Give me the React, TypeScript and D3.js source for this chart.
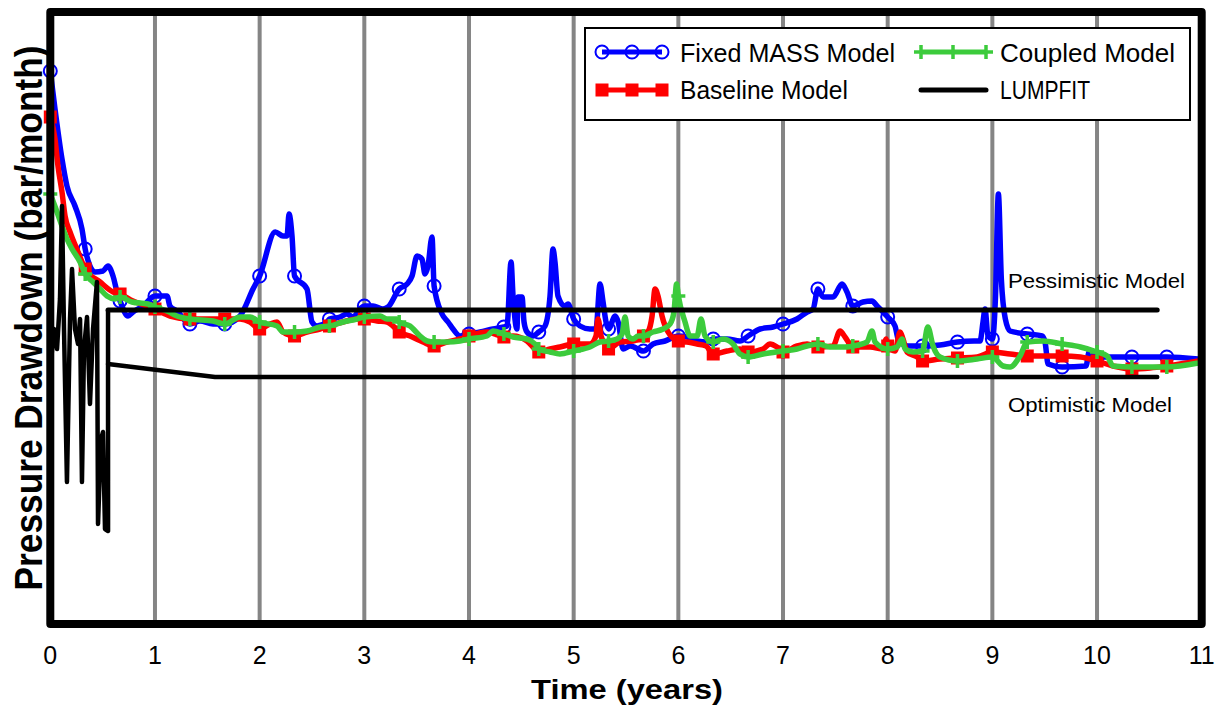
import React from "react";
import * as d3 from "d3";

// time in months, value in bar/month
const xTickLabels = ["0", "1", "2", "3", "4", "5", "6", "7", "8", "9", "10", "11"];

const fixedMass: [number, number][] = [
  [0, 5.53], [0.54, 5.15], [1.34, 4.65], [1.91, 4.38], [2.83, 4.18], [3.63, 3.95], [4, 3.75],
  [4.55, 3.58], [5.12, 3.52], [6.04, 3.53], [6.62, 3.58], [7.19, 3.48], [7.65, 3.32], [8, 3.23],
  [8.91, 3.08], [9.48, 3.12], [10.63, 3.18], [12, 3.28], [13.38, 3.28], [13.72, 3.18], [14.52, 3.13],
  [16, 3.0], [17.16, 3.03], [18.65, 3.0], [20, 3.0], [21.75, 3.08], [23.24, 3.35], [24, 3.48],
  [25.79, 3.92], [26.68, 3.88], [27.14, 3.88], [27.37, 4.1], [27.71, 3.88], [28, 3.48], [29.43, 3.35],
  [30.0, 3.02], [30.58, 2.98], [31.73, 3.02], [32, 3.05], [33.21, 3.07], [34.01, 3.1], [34.7, 3.07],
  [35.5, 3.15], [36, 3.18], [37.0, 3.18], [38.14, 3.15], [38.72, 3.17], [40, 3.35], [40.9, 3.4],
  [41.47, 3.48], [42.04, 3.68], [42.61, 3.65], [42.96, 3.5], [43.3, 3.58], [43.76, 3.87], [44, 3.38],
  [44.91, 3.1], [45.6, 3.02], [46.17, 2.95], [46.97, 2.88], [48, 2.9], [49.27, 2.92], [50.76, 2.95],
  [52, 2.97], [52.36, 2.98], [52.82, 3.62], [53.05, 3.28], [53.5, 2.95], [53.62, 3.27], [54.08, 3.27],
  [54.31, 3.02], [54.65, 2.92], [55.34, 2.88], [56, 2.92], [56.72, 2.98], [57.29, 3.28], [57.63, 3.75],
  [57.86, 3.62], [58.2, 3.28], [59.0, 3.18], [59.35, 3.2], [60, 3.05], [60.73, 2.98], [61.87, 2.95],
  [62.56, 2.95], [63.02, 3.4], [63.37, 3.22], [63.71, 3.02], [64, 2.95], [64.76, 3.08], [65.1, 3.02],
  [65.67, 2.75], [66.48, 2.78], [68, 2.73], [69.1, 2.8], [70.48, 2.83], [72, 2.88], [73.0, 2.87],
  [74.15, 2.83], [75.29, 2.82], [76, 2.85], [77.58, 2.85], [79.07, 2.83], [80, 2.88], [81.37, 2.95],
  [82.86, 2.97], [84, 3.0], [85.61, 3.05], [86.76, 3.12], [87.45, 3.15], [88, 3.35], [88.59, 3.27],
  [89.74, 3.27], [90.77, 3.4], [91.34, 3.32], [92, 3.18], [93.17, 3.22], [94.2, 3.23], [94.78, 3.18],
  [96, 3.07], [96.84, 2.98], [97.19, 2.85], [97.65, 2.8], [98.34, 2.78], [100, 2.78], [102.0, 2.79],
  [104, 2.82], [105.9, 2.83], [106.59, 2.83], [106.93, 3.02], [107.16, 3.15], [107.5, 2.88], [108, 2.85],
  [108.35, 3.25], [108.69, 4.3], [109.03, 3.45], [109.49, 3.05], [110.03, 2.93], [112, 2.9], [113.7, 2.88],
  [114.04, 2.82], [114.39, 2.6], [116, 2.57], [118.74, 2.58], [119.09, 2.72], [120, 2.67], [124, 2.67],
  [128, 2.67], [131.6, 2.65],
];

const baseline: [number, number][] = [
  [0, 5.07], [0.54, 4.85], [0.88, 4.58], [1.34, 4.32], [1.69, 4.08], [2.26, 3.92], [3.18, 3.72], [4, 3.55],
  [5.7, 3.42], [7.19, 3.32], [8, 3.3], [9.48, 3.23], [11.09, 3.18], [12, 3.15], [13.72, 3.08], [16, 3.05],
  [17.97, 3.05], [20, 3.05], [21.75, 3.05], [22.9, 3.02], [24, 2.95], [25.19, 3.0], [25.99, 3.02],
  [26.68, 2.92], [28, 2.88], [29.43, 2.92], [30.92, 2.95], [32, 2.98], [33.56, 3.02], [35.16, 3.05],
  [36, 3.05], [37.46, 3.03], [38.6, 3.02], [39.29, 2.98], [40, 2.92], [41.24, 2.88], [42.73, 2.82],
  [44, 2.78], [45.48, 2.82], [46.97, 2.85], [48, 2.88], [50.07, 2.92], [51.0, 2.9], [52, 2.87],
  [53.05, 2.88], [54.65, 2.83], [55.57, 2.75], [56, 2.72], [57.29, 2.75], [58.43, 2.77], [60, 2.8],
  [61.87, 2.8], [62.56, 2.88], [62.79, 3.05], [63.14, 2.88], [63.6, 2.8], [64, 2.75], [65.32, 2.82],
  [66.81, 2.83], [68, 2.88], [68.53, 2.92], [68.99, 3.08], [69.33, 3.35], [69.67, 3.28], [70.13, 3.08],
  [70.82, 2.92], [72, 2.83], [73.0, 2.82], [74.15, 2.8], [75.18, 2.78], [76, 2.7], [77.58, 2.73],
  [79.07, 2.75], [80, 2.72], [81.71, 2.75], [82.51, 2.8], [83.31, 2.77], [84, 2.72], [85.61, 2.78],
  [86.76, 2.8], [88, 2.77], [89.74, 2.78], [90.54, 2.93], [91.11, 2.87], [92, 2.77], [94.0, 2.77],
  [95.49, 2.75], [95.83, 2.85], [96, 2.78], [96.84, 2.73], [97.42, 2.92], [97.76, 2.85], [98.22, 2.72],
  [99.37, 2.67], [100, 2.63], [102.0, 2.65], [104, 2.66], [106.25, 2.67], [108, 2.72], [110.03, 2.7],
  [112, 2.68], [114.27, 2.68], [116, 2.68], [118.1, 2.67], [120, 2.63], [121.84, 2.58], [124, 2.55],
  [126.08, 2.56], [128, 2.58], [131.6, 2.63],
];

const coupled: [number, number][] = [
  [0, 4.3], [0.77, 4.12], [1.34, 3.98], [1.91, 3.85], [2.49, 3.75], [3.41, 3.62], [4, 3.5], [4.9, 3.42],
  [5.7, 3.35], [6.5, 3.28], [7.42, 3.25], [8, 3.27], [9.37, 3.22], [11.2, 3.2], [12, 3.17], [13.38, 3.13],
  [14.52, 3.08], [16, 3.05], [18.65, 3.03], [20, 3.0], [21.75, 3.07], [22.9, 3.07], [24, 3.02],
  [25.99, 2.98], [26.68, 2.92], [28, 2.92], [29.43, 2.93], [30.92, 2.97], [32, 2.98], [33.56, 3.02],
  [35.16, 3.05], [36, 3.07], [37.8, 3.08], [38.6, 3.05], [39.75, 3.05], [40, 3.02], [41.24, 2.98],
  [42.39, 2.88], [43.19, 2.83], [44, 2.82], [45.48, 2.82], [46.97, 2.83], [48, 2.85], [50.07, 2.88],
  [50.76, 2.93], [52, 2.9], [53.05, 2.87], [54.65, 2.85], [55.57, 2.8], [56, 2.75], [57.29, 2.72],
  [58.43, 2.7], [60, 2.73], [61.87, 2.77], [63.02, 2.82], [64, 2.83], [64.98, 2.85], [65.55, 2.9],
  [65.89, 3.07], [66.24, 2.88], [66.81, 2.85], [67.38, 2.88], [68, 2.88], [69.1, 2.92], [70.25, 2.95],
  [71.05, 3.0], [71.5, 3.12], [71.8, 3.4], [72, 3.28], [72.77, 3.02], [73.34, 2.88], [74.15, 2.88],
  [74.6, 3.05], [75.06, 2.88], [76, 2.82], [77.12, 2.85], [78.27, 2.8], [79.07, 2.7], [80, 2.67],
  [81.71, 2.7], [84, 2.73], [85.61, 2.75], [86.76, 2.78], [88, 2.8], [89.39, 2.77], [91.34, 2.77],
  [92, 2.78], [93.63, 2.82], [94.2, 2.93], [94.55, 2.82], [96, 2.75], [97.07, 2.77], [97.65, 2.85],
  [97.99, 2.75], [98.91, 2.72], [100, 2.73], [100.6, 2.97], [101.2, 2.78], [102.0, 2.67], [104, 2.63],
  [106.25, 2.65], [108, 2.67], [109.23, 2.58], [110.03, 2.57], [111.17, 2.68], [112, 2.82], [113.8, 2.83],
  [116, 2.8], [118.1, 2.77], [120, 2.72], [121.15, 2.68], [121.84, 2.58], [124, 2.57], [128, 2.57],
  [131.6, 2.61],
];

const lumpfit: [number, number][] = [
  [0, 2.55], [0.42, 2.95], [0.77, 2.75], [1.11, 3.25], [1.34, 4.18], [1.57, 2.95], [1.91, 1.42],
  [2.26, 3.05], [2.49, 3.55], [2.83, 2.95], [3.18, 2.8], [3.41, 3.05], [3.63, 1.42], [3.86, 2.75],
  [4.21, 3.07], [4.55, 2.2], [4.9, 2.95], [5.35, 3.42], [5.47, 1.0], [5.81, 1.85], [6.04, 1.92],
  [6.27, 0.95], [6.62, 0.93], [6.62, 3.14],
];

const pessimistic: [number, number][] = [[6.62, 3.14], [126.9, 3.14]];
const optimistic: [number, number][] = [[6.62, 2.6], [18.88, 2.47], [126.9, 2.47]];

const BLUE = "#0000ff";
const RED = "#ff0000";
const GREEN = "#3ccb3c";
const FONT = "'Liberation Sans', Arial, Helvetica, sans-serif";

const W = 1220;
const H = 711;
const L = 50.3;
const R = 1201.7;
const T = 12;
const B = 624;

export default function App() {
  const x = d3.scaleLinear().domain([0, 11]).range([L, R]);
  const y = d3.scaleLinear().domain([0, 6.12]).range([B, T]);
  const smooth = d3
    .line<[number, number]>()
    .x((d) => x(d[0] / 12))
    .y((d) => y(d[1]))
    .curve(d3.curveMonotoneX);
  const straight = d3
    .line<[number, number]>()
    .x((d) => x(d[0] / 12))
    .y((d) => y(d[1]));
  const isMarker = (d: [number, number]) => Number.isInteger(d[0]) && d[0] % 4 === 0;

  const plus = (cx: number, cy: number, s: number, key: string | number) => (
    <path
      key={key}
      d={`M${cx - s},${cy}H${cx + s}M${cx},${cy - s}V${cy + s}`}
      stroke={GREEN}
      strokeWidth={3.5}
      fill="none"
    />
  );

  return (
    <svg width={W} height={H} style={{ position: "absolute", left: 0, top: 0, background: "#fff" }}>
      {/* grid */}
      {xTickLabels.slice(1, 11).map((_, i) => (
        <line key={i} x1={x(i + 1)} x2={x(i + 1)} y1={T} y2={B} stroke="#858585" strokeWidth={4} />
      ))}

      {/* Fixed MASS */}
      <path d={smooth(fixedMass) || ""} fill="none" stroke={BLUE} strokeWidth={5.5} strokeLinejoin="round" />
      {fixedMass.filter(isMarker).map((d, i) => (
        <circle key={i} cx={x(d[0] / 12)} cy={y(d[1])} r={6.5} fill="none" stroke={BLUE} strokeWidth={2} />
      ))}

      {/* Baseline */}
      <path d={smooth(baseline) || ""} fill="none" stroke={RED} strokeWidth={5.5} strokeLinejoin="round" />
      {baseline.filter(isMarker).map((d, i) => (
        <rect key={i} x={x(d[0] / 12) - 6.5} y={y(d[1]) - 6.5} width={13} height={13} fill={RED} />
      ))}

      {/* Coupled */}
      <path d={smooth(coupled) || ""} fill="none" stroke={GREEN} strokeWidth={5.5} strokeLinejoin="round" />
      {coupled.filter(isMarker).map((d, i) => plus(x(d[0] / 12), y(d[1]), 7, i))}

      {/* LUMPFIT */}
      <path d={straight(lumpfit) || ""} fill="none" stroke="#000" strokeWidth={4.5} strokeLinejoin="round" />
      <path d={straight(pessimistic) || ""} fill="none" stroke="#000" strokeWidth={5} strokeLinecap="round" />
      <path d={straight(optimistic) || ""} fill="none" stroke="#000" strokeWidth={4.5} strokeLinecap="round" strokeLinejoin="round" />

      {/* frame */}
      <rect x={L} y={T} width={R - L} height={B - T} fill="none" stroke="#000" strokeWidth={8} strokeLinejoin="round" />

      {/* annotations */}
      <text x={1008} y={288} fontFamily={FONT} fontSize={21} textLength={177} lengthAdjust="spacingAndGlyphs">
        Pessimistic Model
      </text>
      <text x={1008} y={412} fontFamily={FONT} fontSize={21} textLength={164} lengthAdjust="spacingAndGlyphs">
        Optimistic Model
      </text>

      {/* x tick labels */}
      {xTickLabels.map((t, i) => (
        <text key={t} x={x(i)} y={664} textAnchor="middle" fontFamily={FONT} fontSize={25}>
          {t}
        </text>
      ))}

      {/* axis titles */}
      <text
        x={627}
        y={699}
        textAnchor="middle"
        fontFamily={FONT}
        fontSize={28}
        fontWeight="bold"
        textLength={192}
        lengthAdjust="spacingAndGlyphs"
      >
        Time (years)
      </text>
      <text
        transform="translate(42,318) rotate(-90) scale(1,1.15)"
        textAnchor="middle"
        fontFamily={FONT}
        fontSize={33}
        fontWeight="bold"
        textLength={545}
        lengthAdjust="spacingAndGlyphs"
      >
        Pressure Drawdown (bar/month)
      </text>

      {/* legend */}
      <rect x={585} y={28} width={605} height={92} fill="#fff" stroke="#000" strokeWidth={2} />
      <line x1={602} x2={662} y1={52} y2={52} stroke={BLUE} strokeWidth={5} />
      {[602, 632, 662].map((cx) => (
        <circle key={cx} cx={cx} cy={52} r={6.5} fill="none" stroke={BLUE} strokeWidth={2} />
      ))}
      <text x={680} y={62} fontFamily={FONT} fontSize={25} textLength={215} lengthAdjust="spacingAndGlyphs">
        Fixed MASS Model
      </text>
      <line x1={602} x2={662} y1={90} y2={90} stroke={RED} strokeWidth={5} />
      {[602, 632, 662].map((cx) => (
        <rect key={cx} x={cx - 6.5} y={83.5} width={13} height={13} fill={RED} />
      ))}
      <text x={680} y={99} fontFamily={FONT} fontSize={25} textLength={168} lengthAdjust="spacingAndGlyphs">
        Baseline Model
      </text>
      <line x1={921} x2={986} y1={52} y2={52} stroke={GREEN} strokeWidth={5} />
      {[921, 953, 986].map((cx) => plus(cx, 52, 7, "lg" + cx))}
      <text x={1000} y={62} fontFamily={FONT} fontSize={25} textLength={175} lengthAdjust="spacingAndGlyphs">
        Coupled Model
      </text>
      <line x1={921} x2={986} y1={90} y2={90} stroke="#000" strokeWidth={5} strokeLinecap="round" />
      <text x={1000} y={99} fontFamily={FONT} fontSize={25} textLength={90} lengthAdjust="spacingAndGlyphs">
        LUMPFIT
      </text>
    </svg>
  );
}
